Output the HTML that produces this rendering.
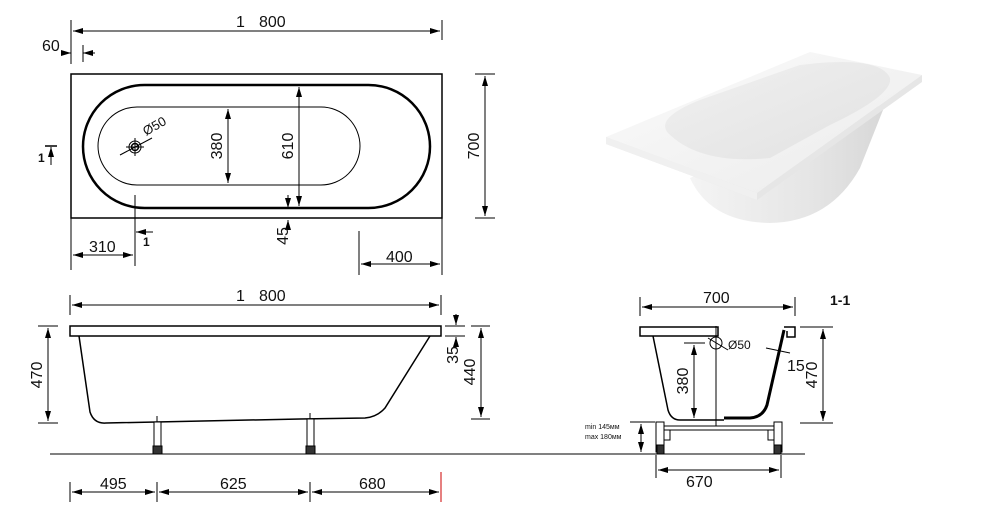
<!DOCTYPE html>
<html><head><meta charset="utf-8"><style>
html,body{margin:0;padding:0;background:#fff;width:990px;height:505px;overflow:hidden}
svg{display:block}
text{font-family:"Liberation Sans",sans-serif;fill:#111}
</style></head><body>
<svg width="990" height="505" viewBox="0 0 990 505" xmlns="http://www.w3.org/2000/svg">
<defs>
<marker id="a" viewBox="0 0 10 6" refX="10" refY="3" markerWidth="10" markerHeight="6" orient="auto-start-reverse" markerUnits="userSpaceOnUse"><path d="M0,0L10,3L0,6z" fill="#000"/></marker>
<linearGradient id="g1" x1="0" y1="0" x2="1" y2="1"><stop offset="0" stop-color="#fbfbfb"/><stop offset="1" stop-color="#ebebeb"/></linearGradient>
<linearGradient id="g2" x1="0" y1="0" x2="1" y2="0"><stop offset="0" stop-color="#f4f4f4"/><stop offset="0.6" stop-color="#e6e6e6"/><stop offset="1" stop-color="#d8d8d8"/></linearGradient>
<linearGradient id="g3" x1="0" y1="0" x2="1" y2="1"><stop offset="0" stop-color="#f0f0f0"/><stop offset="1" stop-color="#e2e2e2"/></linearGradient>
</defs>
<!-- 3D render -->
<path d="M690,178 Q710,222 770,223 Q830,222 860,168 L883,110 L870,100 Z" fill="url(#g2)"/>
<polygon points="606,137 810,52 922,75 757,193" fill="url(#g1)"/>
<polygon points="606,137 757,193 922,75 922,82 757,200 606,144" fill="#e6e6e6"/>
<polygon points="606,137 757,193 757,200 606,144" fill="#f0f0f0"/>
<path d="M668,133 Q655,118 700,100 L800,65 Q880,55 890,78 Q893,95 830,125 L770,158 Q700,165 668,133 Z" fill="url(#g3)"/>
<g stroke="#000" fill="none" stroke-width="1">
<!-- TOP VIEW -->
<line x1="71" y1="20" x2="71" y2="64"/><line x1="442" y1="20" x2="442" y2="40"/>
<line x1="73" y1="31" x2="440" y2="31" marker-start="url(#a)" marker-end="url(#a)"/>
<line x1="83" y1="45" x2="83" y2="62"/>
<line x1="62" y1="53" x2="71" y2="53" marker-end="url(#a)"/><line x1="95" y1="53" x2="83" y2="53" marker-end="url(#a)"/>
<rect x="71" y="74" width="371" height="144" stroke-width="1.5"/>
<rect x="83" y="85" width="347" height="123" rx="61.5" stroke-width="2.5"/>
<rect x="98" y="107" width="262" height="78" rx="39"/>
<circle cx="135" cy="147" r="6"/><circle cx="135" cy="147" r="3.5" stroke-width="1.5"/>
<line x1="120" y1="155" x2="152" y2="138"/><line x1="135" y1="138" x2="135" y2="156"/><line x1="126" y1="147" x2="144" y2="147"/>
<line x1="228" y1="109" x2="228" y2="183" marker-start="url(#a)" marker-end="url(#a)"/>
<line x1="299" y1="87" x2="299" y2="206" marker-start="url(#a)" marker-end="url(#a)"/>
<line x1="288" y1="195" x2="288" y2="208" marker-end="url(#a)"/>
<line x1="288" y1="230" x2="288" y2="220" marker-end="url(#a)"/>
<line x1="485" y1="76" x2="485" y2="216" marker-start="url(#a)" marker-end="url(#a)"/>
<line x1="475" y1="74" x2="495" y2="74"/><line x1="475" y1="218" x2="495" y2="218"/>
<line x1="71" y1="218" x2="71" y2="270"/><line x1="135" y1="195" x2="135" y2="266"/>
<line x1="73" y1="255" x2="133" y2="255" marker-start="url(#a)" marker-end="url(#a)"/>
<line x1="153" y1="232" x2="136" y2="232" marker-end="url(#a)"/>
<line x1="359" y1="231" x2="359" y2="275"/><line x1="442" y1="218" x2="442" y2="275"/>
<line x1="361" y1="264" x2="440" y2="264" marker-start="url(#a)" marker-end="url(#a)"/>
<line x1="51" y1="165" x2="51" y2="147" marker-end="url(#a)"/><line x1="45" y1="146" x2="57" y2="146" stroke-width="1.5"/>
<!-- SIDE VIEW -->
<line x1="70" y1="295" x2="70" y2="315"/><line x1="441" y1="295" x2="441" y2="315"/>
<line x1="72" y1="305" x2="439" y2="305" marker-start="url(#a)" marker-end="url(#a)"/>
<rect x="70" y="326" width="371" height="10" stroke-width="1.5"/>
<path d="M79,336 L90,412 Q94,424 106,423 L300,419 L365,418 Q377,417 385,408 L430,336" stroke-width="1.5"/>
<line x1="50" y1="454" x2="805" y2="454"/>
<line x1="48" y1="328" x2="48" y2="421" marker-start="url(#a)" marker-end="url(#a)"/>
<line x1="38" y1="326" x2="58" y2="326"/><line x1="38" y1="423" x2="58" y2="423"/>
<line x1="445" y1="326" x2="465" y2="326"/><line x1="445" y1="336" x2="465" y2="336"/>
<line x1="456" y1="314" x2="456" y2="325" marker-end="url(#a)"/>
<line x1="456" y1="348" x2="456" y2="337" marker-end="url(#a)"/>
<line x1="471" y1="326" x2="490" y2="326"/><line x1="471" y1="419" x2="490" y2="419"/>
<line x1="481" y1="328" x2="481" y2="417" marker-start="url(#a)" marker-end="url(#a)"/>
<line x1="70" y1="482" x2="70" y2="502"/><line x1="157" y1="482" x2="157" y2="502"/><line x1="310" y1="482" x2="310" y2="502"/><line x1="441" y1="472" x2="441" y2="502" stroke="#c00"/>
<line x1="72" y1="492" x2="155" y2="492" marker-start="url(#a)" marker-end="url(#a)"/>
<line x1="159" y1="492" x2="308" y2="492" marker-start="url(#a)" marker-end="url(#a)"/>
<line x1="312" y1="492" x2="439" y2="492" marker-start="url(#a)" marker-end="url(#a)"/>
<!-- SECTION -->
<line x1="640" y1="297" x2="640" y2="316"/><line x1="795" y1="297" x2="795" y2="316"/>
<line x1="642" y1="307" x2="793" y2="307" marker-start="url(#a)" marker-end="url(#a)"/>
<rect x="640" y="327" width="78" height="9" stroke-width="1.5"/>
<path d="M784,327 L795,327 L795,337 L787,337 L787,331" stroke-width="1.5"/>
<path d="M653,336 L668,410 Q671,420 680,420 L724,420" stroke-width="1.5"/>
<path d="M784,330 L767,405 Q763,417 750,418 L724,418" stroke-width="3"/>
<line x1="716" y1="326" x2="716" y2="426"/>
<circle cx="716" cy="343" r="6"/><line x1="708" y1="338" x2="728" y2="350"/>
<line x1="694" y1="345" x2="694" y2="418" marker-start="url(#a)" marker-end="url(#a)"/>
<line x1="684" y1="343" x2="705" y2="343"/>
<line x1="766" y1="348" x2="790" y2="353"/>
<line x1="823" y1="329" x2="823" y2="421" marker-start="url(#a)" marker-end="url(#a)"/>
<line x1="800" y1="327" x2="833" y2="327"/><line x1="800" y1="423" x2="833" y2="423"/>
<path d="M656,422 L664,422 L664,452 L656,452 Z"/><path d="M774,422 L782,422 L782,452 L774,452 Z"/>
<path d="M664,426 L774,426 M664,430 L670,430 L670,440 L664,440 M774,430 L768,430 L768,440 L774,440 M670,430 L768,430"/>
<rect x="657" y="445" width="7" height="9" fill="#333"/><rect x="774" y="445" width="7" height="9" fill="#333"/>
<line x1="630" y1="422" x2="655" y2="422"/>
<line x1="641" y1="424" x2="641" y2="452" marker-start="url(#a)" marker-end="url(#a)"/>
<line x1="656" y1="455" x2="656" y2="478"/><line x1="781" y1="455" x2="781" y2="478"/>
<line x1="658" y1="470" x2="779" y2="470" marker-start="url(#a)" marker-end="url(#a)"/>
</g>
<!-- legs side -->
<g stroke="#000" fill="#fff" stroke-width="1">
<rect x="154" y="422" width="7" height="24"/><rect x="153" y="446" width="9" height="8" fill="#333"/><line x1="157" y1="416" x2="157" y2="422"/>
<rect x="307" y="419" width="7" height="27"/><rect x="306" y="446" width="9" height="8" fill="#333"/><line x1="310" y1="413" x2="310" y2="419"/>
</g>
<!-- text -->
<g font-size="16">
<text x="236" y="27">1</text><text x="259" y="27">800</text>
<text x="42" y="51">60</text>
<text x="89" y="252">310</text><text x="386" y="262">400</text>
<text x="236" y="301">1</text><text x="259" y="301">800</text>
<text x="100" y="489">495</text><text x="220" y="489">625</text><text x="359" y="489">680</text>
<text x="703" y="303">700</text><text x="686" y="487">670</text>
<text x="787" y="371">15</text>
<text transform="translate(228,146) rotate(-90)" text-anchor="middle" dy="-6">380</text>
<text transform="translate(299,146) rotate(-90)" text-anchor="middle" dy="-6">610</text>
<text transform="translate(292,236) rotate(-90)" text-anchor="middle" dy="-4">45</text>
<text transform="translate(485,146) rotate(-90)" text-anchor="middle" dy="-6">700</text>
<text transform="translate(48,375) rotate(-90)" text-anchor="middle" dy="-6">470</text>
<text transform="translate(460,355) rotate(-90)" text-anchor="middle" dy="-2">35</text>
<text transform="translate(481,372) rotate(-90)" text-anchor="middle" dy="-6">440</text>
<text transform="translate(694,381) rotate(-90)" text-anchor="middle" dy="-6">380</text>
<text transform="translate(823,375) rotate(-90)" text-anchor="middle" dy="-6">470</text>
</g>
<text transform="translate(146,136) rotate(-30)" font-size="13">Ø50</text>
<text x="728" y="349" font-size="12">Ø50</text>
<text x="143" y="246" font-size="12" font-weight="bold">1</text>
<text x="38" y="162" font-size="12" font-weight="bold">1</text>
<text x="830" y="305" font-size="14" font-weight="bold">1-1</text>
<text x="585" y="429" font-size="7">min 145мм</text>
<text x="585" y="439" font-size="7">max 180мм</text>
</svg>
</body></html>
